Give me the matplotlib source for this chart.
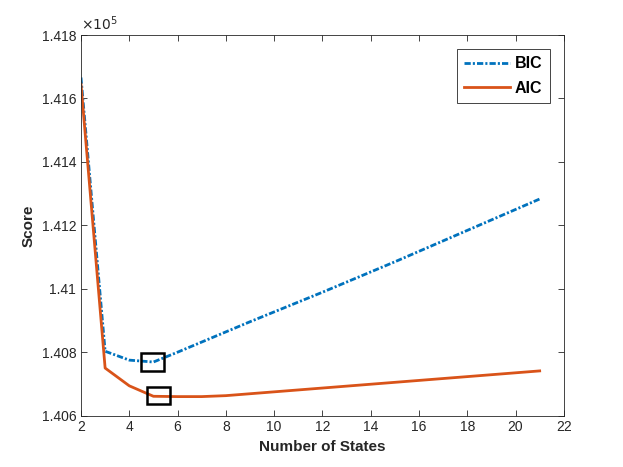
import matplotlib
matplotlib.use("Agg")
import matplotlib.pyplot as plt
from matplotlib.patches import Rectangle
from matplotlib.ticker import FuncFormatter

# データ
states = list(range(2, 22))
bic = [141666, 140803, 140775, 140769, 140800, 140832, 140864, 140896, 140927, 140958,
       140989, 141021, 141053, 141085, 141118, 141151, 141184, 141217, 141250, 141283]
aic = [141645, 140750, 140694, 140661, 140660, 140660, 140663, 140669, 140675, 140681,
       140687, 140693, 140699, 140705, 140711, 140717, 140723, 140729, 140735, 140741]
# 最小値の位置の四角
box_x = [4.97, 5.2]
box_y = [140769, 140663]
x_ticks = [2, 4, 6, 8, 10, 12, 14, 16, 18, 20, 22]
y_ticks = [140600, 140800, 141000, 141200, 141400, 141600, 141800]

plt.rcParams['font.family'] = ['Liberation Sans', 'DejaVu Sans']
plt.rcParams['lines.scale_dashes'] = False
ax_col = (0.15, 0.15, 0.15)

fig = plt.figure(figsize=(6.23, 4.67), dpi=100)
ax = fig.add_axes([0.13, 0.11, 0.775, 0.815])

ax.plot(states, bic, color='#0072BD', lw=2.0, dashes=(4.5, 1.5, 1.5, 1.5), label='BIC')
ax.plot(states, aic, '-', color='#D95319', lw=2.0, label='AIC')

for bx, by in zip(box_x, box_y):
    ax.add_patch(Rectangle((bx - 0.48, by - 27), 0.96, 54, fill=False,
                           edgecolor='black', lw=1.8, zorder=5))

ax.set_xlim(2, 22)
ax.set_ylim(140600, 141800)
ax.set_xticks(x_ticks)
ax.set_yticks(y_ticks)
ax.yaxis.set_major_formatter(FuncFormatter(lambda v, p: '%g' % round(v / 1e5, 3)))
ax.tick_params(direction='in', top=True, right=True, length=4, width=0.6,
               colors=ax_col, labelsize=10, labelcolor=ax_col)
for s in ax.spines.values():
    s.set_color(ax_col)
    s.set_linewidth(0.6)

ax.set_xlabel('Number of States', fontsize=11, fontweight='bold', color=ax_col)
ax.set_ylabel('Score', fontsize=11, fontweight='bold', color=ax_col)
ax.text(0.0, 1.005, r'$\times10^5$', transform=ax.transAxes, fontsize=10,
        color=ax_col, ha='left', va='bottom')

leg = ax.legend(loc='upper right', bbox_to_anchor=(0.971, 0.963), borderaxespad=0,
                prop={'weight': 'bold', 'size': 11.5}, handlelength=2.9,
                fancybox=False, framealpha=1, edgecolor=ax_col, borderpad=0.45,
                labelspacing=0.6, handletextpad=0.3)
leg.get_frame().set_linewidth(0.6)

fig.savefig('out.png', dpi=100)
